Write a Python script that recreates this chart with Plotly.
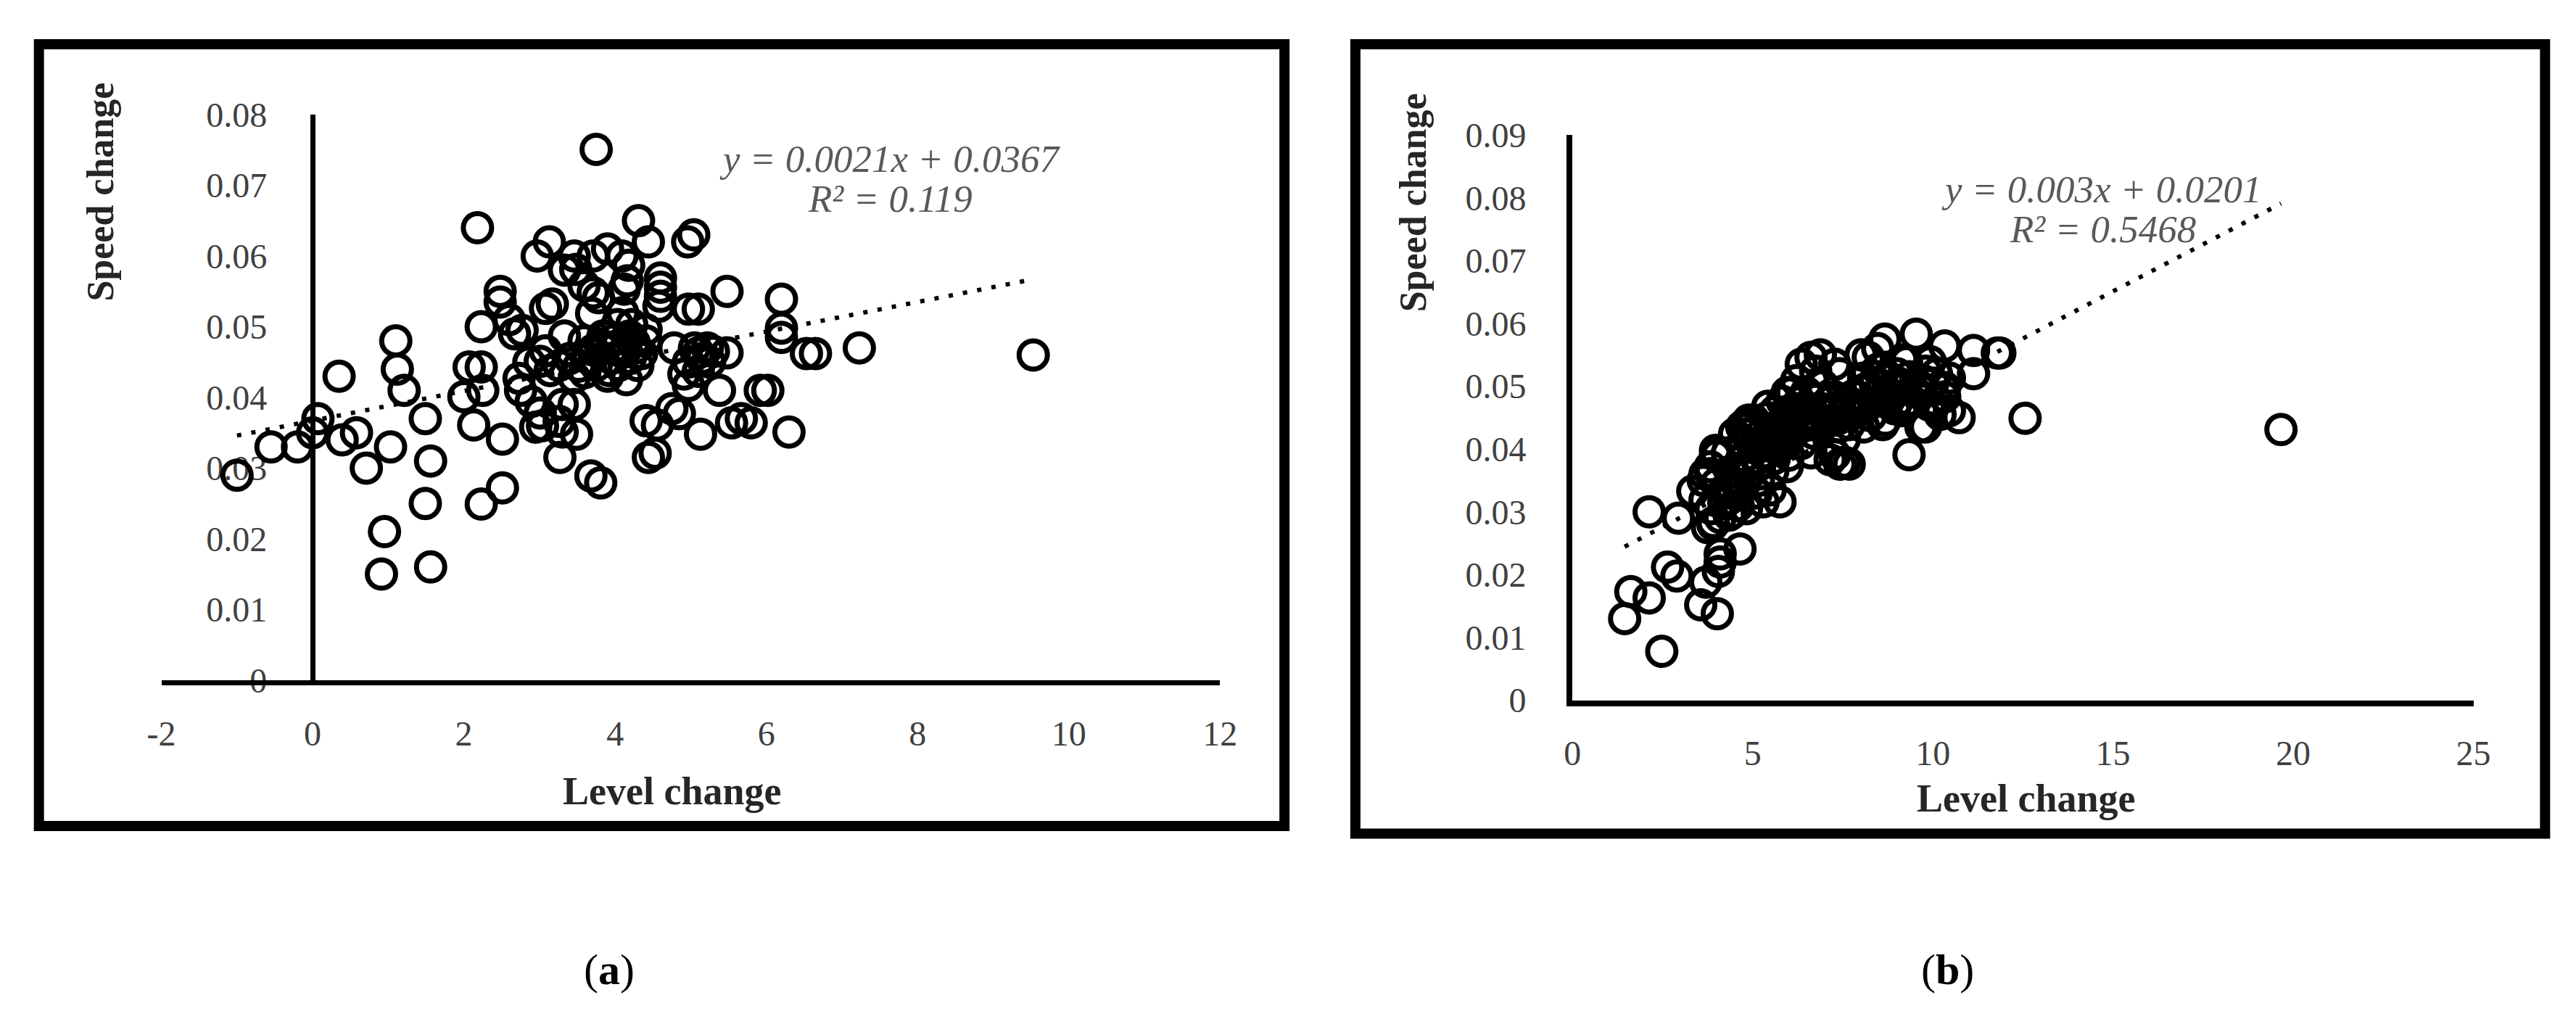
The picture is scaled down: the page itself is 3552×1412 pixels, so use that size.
import plotly.graph_objects as go

# ---- panel (a) data ----
a_level = [-1.0, -0.55, -0.2, 0.07, 0.0, 0.35, 0.39, 0.58, 0.71, 1.03, 1.10, 1.12, 1.21, 0.95, 0.91,
           1.49, 1.56, 1.49, 1.56,
           2.18, 4.31, 5.04, 4.96, 3.13, 2.97, 3.90, 3.71, 3.46, 3.33, 4.09, 4.44, 5.48, 2.48, 2.48,
           2.23, 2.60, 2.67, 3.08, 3.17, 3.59, 3.71, 3.78, 4.16, 4.60, 4.60, 4.60, 4.58, 4.97, 5.10,
           6.20, 6.20, 6.20, 3.84, 4.03, 4.10, 3.59, 3.33, 3.71, 3.87, 4.03, 4.19, 4.28, 4.41, 3.52,
           3.46, 3.14, 3.01, 3.08, 2.86, 2.73, 2.89, 3.01, 2.95, 3.30, 3.46, 3.30, 3.27, 3.49, 2.07,
           2.23, 2.00, 2.25, 2.13, 2.51, 2.23, 2.51, 3.68, 3.81, 4.44, 4.53, 4.41, 4.56, 4.75, 4.85,
           5.13, 5.38, 5.54, 5.67, 5.80, 5.92, 6.02, 6.30, 5.48, 5.22, 5.10, 4.97, 4.91, 5.10, 4.97,
           5.25, 4.78, 4.22, 4.41,
           2.77, 2.75, 3.04, 3.26, 3.26, 3.48, 3.75, 3.69, 4.18, 4.12,
           9.53, 7.23, 6.53, 6.65,
           3.95, 4.05, 3.75, 4.20, 3.90, 4.30, 3.65, 4.15, 5.15, 5.30, 5.05,
           3.80, 4.00, 4.12, 3.92, 4.25, 3.60, 3.40, 4.35]
a_speed = [0.029, 0.033, 0.033, 0.037, 0.035, 0.043, 0.034, 0.035, 0.030, 0.033, 0.048, 0.044, 0.041, 0.021, 0.015,
           0.037, 0.031, 0.025, 0.016,
           0.064, 0.065, 0.063, 0.062, 0.062, 0.060, 0.061, 0.060, 0.060, 0.058, 0.060, 0.062, 0.055, 0.055, 0.0535,
           0.050, 0.051, 0.049, 0.0526, 0.0532, 0.0558, 0.0548, 0.0541, 0.0565, 0.0569, 0.0556, 0.0543, 0.0529, 0.0525, 0.0525,
           0.0539, 0.0498, 0.0485, 0.0487, 0.0503, 0.052, 0.048, 0.0487, 0.0467, 0.047, 0.0473, 0.0487, 0.047, 0.048, 0.0444,
           0.0428, 0.0438, 0.0451, 0.0466, 0.045, 0.0427, 0.0394, 0.0378, 0.0358, 0.039, 0.039, 0.0351, 0.0315, 0.0348, 0.0443,
           0.0443, 0.0401, 0.041, 0.0361, 0.0341, 0.0249, 0.0272, 0.0289, 0.0279, 0.0315, 0.0321, 0.0367, 0.0361, 0.0384, 0.0377,
           0.0348, 0.041, 0.0364, 0.037, 0.0364, 0.041, 0.041, 0.0351, 0.0463, 0.047, 0.0463, 0.045, 0.0433, 0.0437, 0.0417,
           0.045, 0.047, 0.0503, 0.0496,
           0.0495, 0.041, 0.036, 0.0366, 0.0445, 0.0581, 0.0751, 0.0519, 0.0587, 0.0553,
           0.046, 0.047, 0.0462, 0.0462,
           0.0455, 0.0445, 0.0445, 0.0455, 0.043, 0.0445, 0.0455, 0.0425, 0.0455, 0.0465, 0.047,
           0.0475, 0.0482, 0.0465, 0.0438, 0.0478, 0.0435, 0.0455, 0.0462]
a_slope, a_intercept = 0.0021, 0.0367
a_eq = "y = 0.0021x + 0.0367"
a_r2 = "R² = 0.119"
a_xticks = [-2, 0, 2, 4, 6, 8, 10, 12]

# ---- panel (b) data ----
b_level = [1.45, 1.62, 2.13, 2.48, 2.13, 2.94, 2.64, 2.90, 3.56, 4.02, 3.70, 4.10, 4.10, 4.05, 4.65,
           3.34, 3.68, 4.02, 3.68, 3.91, 4.75, 4.80, 4.34,
           9.54, 8.67, 8.47, 8.21, 10.33, 11.13, 11.86, 11.13, 10.73, 10.46, 9.34, 9.80, 10.33, 10.46,
           9.93, 9.27, 9.00, 9.60, 9.27, 8.61, 8.47, 8.94, 8.28, 7.94, 7.61, 8.08, 7.41, 7.28, 6.88,
           6.62, 6.35, 6.75, 6.22, 6.09, 6.49, 6.95, 7.28, 6.95, 6.62, 6.29, 5.96, 5.62, 5.42, 4.89,
           4.70, 4.83, 5.29, 5.69, 6.09, 6.49, 6.88, 7.28, 7.68, 8.08, 8.61, 7.55, 7.28, 7.55, 7.15,
           6.62, 6.35, 5.96, 5.62, 5.29, 5.03, 4.76, 4.30, 3.97, 3.83, 3.63, 4.23, 4.63, 5.16, 5.56,
           5.96, 5.49, 5.76, 5.29, 4.83, 4.43, 4.10, 3.90, 4.50, 5.03, 5.42, 5.82, 5.96,
           12.56, 19.66, 11.79, 9.14, 9.80, 10.33, 9.47, 10.00, 9.14, 9.67, 8.68, 8.21, 8.47, 8.01,
           3.97, 7.42, 7.68, 3.84,
           5.50, 5.80, 6.10, 6.40, 6.70, 7.00, 7.30, 7.60, 7.90, 8.20, 5.20, 5.60, 6.00, 4.90, 5.10,
           4.60, 6.30, 6.80, 8.50, 8.80, 9.10, 9.40, 9.70, 10.10, 10.20, 9.90,
           4.40, 4.70, 5.00, 5.30, 5.65, 5.90, 6.20, 6.55, 6.85, 7.10, 7.45, 7.80, 8.10, 8.40, 8.75,
           9.05, 9.35, 9.65, 10.00, 10.30, 4.55, 4.85, 5.15, 5.45, 5.75, 6.05, 6.35, 6.70, 7.05, 7.40,
           7.75, 8.05, 8.35, 8.70, 9.00, 3.85, 4.20, 4.45, 3.75, 4.00, 4.35]
b_speed = [0.013, 0.0173, 0.0163, 0.0078, 0.030, 0.029, 0.0212, 0.0198, 0.0152, 0.0138, 0.0188, 0.0233, 0.022, 0.0205, 0.0241,
           0.0333, 0.036, 0.039, 0.0319, 0.0283, 0.0432, 0.044, 0.032,
           0.0583, 0.0575, 0.056, 0.0546, 0.0564, 0.0557, 0.0553, 0.052, 0.045, 0.0461, 0.0391, 0.0435, 0.0483, 0.0513,
           0.0539, 0.0539, 0.052, 0.0501, 0.0476, 0.0501, 0.0476, 0.0464, 0.0453, 0.0483, 0.0464, 0.0513, 0.052, 0.0535, 0.055,
           0.0546, 0.0535, 0.0524, 0.0509, 0.049, 0.049, 0.0501, 0.0483, 0.0464, 0.0464, 0.0464, 0.046, 0.046, 0.045, 0.0446,
           0.0435, 0.0424, 0.0428, 0.0435, 0.0439, 0.0439, 0.0439, 0.0446, 0.0439, 0.0435, 0.0439, 0.0416, 0.0391, 0.0379, 0.0383,
           0.0394, 0.0409, 0.0409, 0.0402, 0.0394, 0.0402, 0.0409, 0.0394, 0.0398, 0.0372, 0.035, 0.0335, 0.0342, 0.035, 0.0365,
           0.0372, 0.0335, 0.0316, 0.0316, 0.0305, 0.0298, 0.0291, 0.028, 0.0424, 0.0446, 0.0468, 0.0476, 0.049,
           0.0449, 0.0431, 0.0553, 0.0542, 0.0524, 0.0498, 0.0491, 0.0468, 0.0461, 0.0435, 0.0446, 0.0498, 0.0527, 0.055,
           0.039, 0.0376, 0.0376, 0.0361,
           0.042, 0.041, 0.0425, 0.0445, 0.0425, 0.0455, 0.0465, 0.0475, 0.046, 0.047, 0.0375, 0.0385, 0.039, 0.036, 0.033,
           0.031, 0.0475, 0.048, 0.049, 0.048, 0.0495, 0.0475, 0.051, 0.052, 0.0455, 0.047,
           0.0365, 0.0385, 0.0405, 0.0415, 0.0435, 0.0445, 0.0455, 0.0455, 0.0465, 0.0475, 0.0455, 0.0485, 0.0495, 0.0505, 0.0515,
           0.0505, 0.0515, 0.0495, 0.0505, 0.0495, 0.0345, 0.0375, 0.0385, 0.0405, 0.0415, 0.0425, 0.0435, 0.0445, 0.0445, 0.0435,
           0.0455, 0.0465, 0.0475, 0.0485, 0.0475, 0.0305, 0.0315, 0.0335, 0.0275, 0.0345, 0.0295]
b_slope, b_intercept = 0.003, 0.0201
b_eq = "y = 0.003x + 0.0201"
b_r2 = "R² = 0.5468"
b_xticks = [0, 5, 10, 15, 20, 25]

y_title = "Speed change"
x_title = "Level change"
panel_tags = ["(<b>a</b>)", "(<b>b</b>)"]

W, H = 3552, 1412
SERIF = "Liberation Serif"


def px(x):
    return x / W


def py(y):
    return 1 - y / H


fig = go.Figure()


def add_panel(xs, ys, slope, intercept, xa, ya):
    lo, hi = min(xs), max(xs)
    fig.add_trace(go.Scatter(
        x=[lo, hi], y=[slope * lo + intercept, slope * hi + intercept],
        mode="lines", line=dict(color="black", width=6, dash="6px,14px"),
        xaxis=xa, yaxis=ya, hoverinfo="skip"))
    fig.add_trace(go.Scatter(
        x=xs, y=ys, mode="markers",
        marker=dict(symbol="circle-open", size=39, color="black", line=dict(width=7)),
        xaxis=xa, yaxis=ya))


add_panel(a_level, a_speed, a_slope, a_intercept, "x", "y")
add_panel(b_level, b_speed, b_slope, b_intercept, "x2", "y2")

tickfont = dict(family=SERIF, size=48, color="#404040")
common = dict(showgrid=False, zeroline=False, showline=True, linecolor="black",
              tickfont=tickfont, ticks="", fixedrange=True)

fig.update_layout(
    width=W, height=H, autosize=False,
    margin=dict(l=0, r=0, t=0, b=0),
    paper_bgcolor="white", plot_bgcolor="white",
    showlegend=False,
    xaxis=dict(domain=[px(197), px(1675)], range=[-2, 12], anchor="y",
               tickvals=a_xticks, ticktext=[str(v) for v in a_xticks],
               linewidth=7, ticklabelstandoff=26, **common),
    yaxis=dict(domain=[py(939), py(129)], range=[0, 0.08], dtick=0.01,
               anchor="free", position=px(408), linewidth=7,
               ticklabelstandoff=50, layer="below traces", **common),
    xaxis2=dict(domain=[px(2167), px(3425)], range=[0, 25], anchor="y2",
                tickvals=b_xticks, ticktext=[str(v) for v in b_xticks],
                linewidth=8, ticklabelstandoff=24, **common),
    yaxis2=dict(domain=[py(968), py(158)], range=[0, 0.09], dtick=0.01,
                anchor="x2", linewidth=8, ticklabelstandoff=46, **common),
)

# panel frames
for x0, y0, x1, y1 in [(26, 28, 1765, 1148), (1864, 28, 3525, 1159)]:
    fig.add_shape(type="rect", xref="paper", yref="paper",
                  x0=px(x0), y0=py(y1), x1=px(x1), y1=py(y0),
                  line=dict(color="black", width=14), fillcolor="rgba(0,0,0,0)")


def note(text, x, y, size, color="black", angle=0):
    fig.add_annotation(text=text, xref="paper", yref="paper", x=px(x), y=py(y),
                       xanchor="center", yanchor="middle", showarrow=False, textangle=angle,
                       font=dict(family=SERIF, size=size, color=color))


note("<b>%s</b>" % y_title, 112, 240, 52, "#262626", -90)
note("<b>%s</b>" % x_title, 910, 1098, 54, "#262626")
note("<b>%s</b>" % y_title, 1945, 255, 52, "#262626", -90)
note("<b>%s</b>" % x_title, 2800, 1109, 54, "#262626")

note("<i>%s</i>" % a_eq, 1215, 192, 53, "#595959")
note("<i>%s</i>" % a_r2, 1215, 249, 53, "#595959")
note("<i>%s</i>" % b_eq, 2906, 236, 53, "#595959")
note("<i>%s</i>" % b_r2, 2908, 293, 53, "#595959")

note(panel_tags[0], 822, 1354, 60)
note(panel_tags[1], 2691, 1354, 60)

fig.write_html("out.html")
